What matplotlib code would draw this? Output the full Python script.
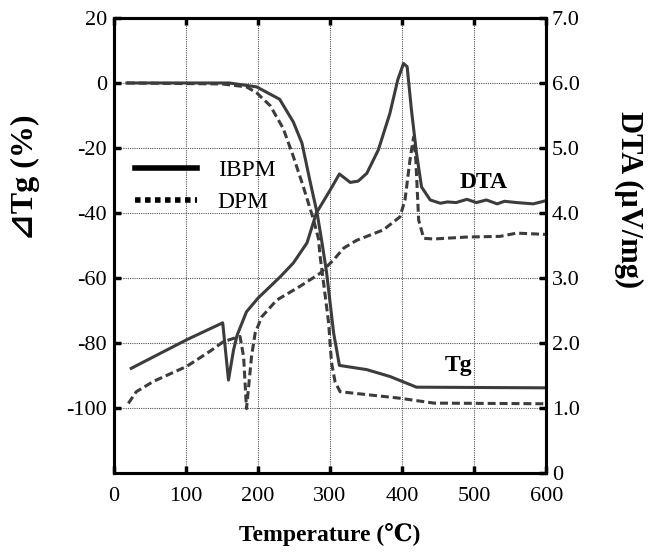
import numpy as np
import matplotlib
matplotlib.use("Agg")
import matplotlib.pyplot as plt
from matplotlib.lines import Line2D

plt.rcParams['font.family'] = ['Liberation Serif', 'DejaVu Serif', 'DejaVu Sans']
plt.rcParams['axes.unicode_minus'] = False

# Tg curves (left axis, %)
tg_ibpm_t = [18, 160, 198, 230, 249, 261, 272, 282, 288, 295, 305, 313, 351, 383, 420, 600]
tg_ibpm_v = [0, 0, -1.2, -5, -12, -18.5, -30, -40, -48, -58, -77, -86.9, -88.2, -90.3, -93.6, -93.8]
tg_dpm_t = [18, 150, 184, 198, 217, 235, 249, 263, 277, 284, 286, 291, 298, 302, 307, 314, 397, 444, 600]
tg_dpm_v = [0, -0.3, -1.2, -3, -7, -14, -22.6, -32, -42, -48, -53, -61.5, -73.8, -86, -92, -95, -97, -98.5, -98.7]

# DTA curves (right axis, uV/mg)
dta_ibpm_t = [24, 101, 151, 159, 166, 171, 184, 200, 231, 249, 268, 281, 300, 313, 328, 339,
              351, 367, 383, 394, 402, 407, 413, 420, 427, 439, 453, 463, 475, 490, 503, 517,
              532, 542, 559, 582, 600]
dta_ibpm_v = [1.61, 2.05, 2.31, 1.43, 1.89, 2.12, 2.48, 2.69, 3.02, 3.23, 3.54, 4.0, 4.35, 4.6,
              4.47, 4.49, 4.61, 4.97, 5.53, 6.05, 6.3, 6.25, 5.58, 4.92, 4.4, 4.2, 4.15, 4.17,
              4.16, 4.21, 4.16, 4.2, 4.14, 4.18, 4.16, 4.14, 4.19]
dta_dpm_t = [20, 31, 55, 101, 133, 152, 166, 175, 180, 184, 187, 191, 196, 205, 226, 258, 286,
             305, 319, 337, 374, 397, 404, 411, 416, 419, 423, 430, 444, 490, 536, 559, 600]
dta_dpm_v = [1.07, 1.25, 1.41, 1.64, 1.87, 2.02, 2.07, 2.1, 1.79, 0.99, 1.33, 1.79, 2.15, 2.4,
             2.66, 2.87, 3.07, 3.28, 3.46, 3.58, 3.74, 3.94, 4.2, 4.82, 5.17, 4.82, 3.89, 3.61,
             3.6, 3.63, 3.64, 3.69, 3.67]

col = '#3c3c3c'
dash = (2.6, 1.3)

fig = plt.figure(figsize=(6.51, 5.53), dpi=100)
ax = fig.add_axes([0.175, 0.1447, 0.664, 0.8228])
ax2 = ax.twinx()

ax.plot(tg_ibpm_t, tg_ibpm_v, color=col, lw=2.2)
ax.plot(tg_dpm_t, tg_dpm_v, color=col, lw=2.2, dashes=dash)
ax2.plot(dta_ibpm_t, dta_ibpm_v, color=col, lw=2.2)
ax2.plot(dta_dpm_t, dta_dpm_v, color=col, lw=2.2, dashes=dash)

ax.set_xlim(0, 600)
ax.set_ylim(-120, 20)
ax2.set_ylim(0, 7)
ax.set_xticks(range(0, 601, 100))
ax.set_yticks(range(-100, 21, 20))
ax2.set_yticks(range(0, 8))
ax2.set_yticklabels(['0'] + ['%.1f' % v for v in range(1, 8)])

ax.grid(True, color='#555555', ls=(0, (1, 1)), lw=0.8)
ax.tick_params(axis='x', direction='in', length=5, width=2.5, labelsize=16, top=True, pad=10)
ax.tick_params(axis='y', direction='in', length=5, width=2.5, labelsize=16, pad=5)
ax2.tick_params(direction='in', length=5, width=2.5, labelsize=16, pad=4)
for a in (ax, ax2):
    for s in a.spines.values():
        s.set_linewidth(2.2)

ax.set_xlabel('Temperature (℃)', fontsize=17, fontweight='bold')
ax.xaxis.set_label_coords(0.5, -0.11)
ax.set_ylabel('⊿Tg (%)', fontsize=23, fontweight='bold')
ax.yaxis.set_label_coords(-0.171, 0.65)
ax2.set_ylabel('DTA (μV/mg)', fontsize=22, fontweight='bold', rotation=-90, va='center')
ax2.yaxis.set_label_coords(1.19, 0.6)

ax.text(513, -30.5, 'DTA', fontsize=17, fontweight='bold', ha='center', va='center')
ax.text(478, -87, 'Tg', fontsize=17, fontweight='bold', ha='center', va='center')

handles = [Line2D([], [], color='black', lw=4, label='IBPM'),
           Line2D([], [], color='black', lw=4, dashes=(1, 0.8), label='DPM')]
ax.legend(handles=handles, loc='upper left', bbox_to_anchor=(0.0, 0.736), frameon=False,
          fontsize=17, handlelength=2.6, labelspacing=0.45, handletextpad=0.9)

fig.savefig('out.png', dpi=100)
